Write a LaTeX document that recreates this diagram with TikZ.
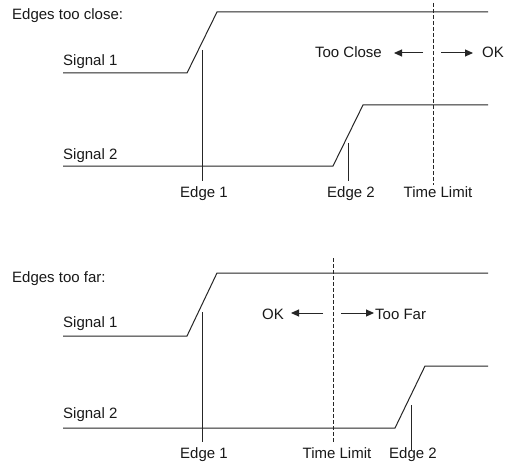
\documentclass[tikz,border=0pt]{standalone}
\usepackage{fontspec}
\setmainfont{Liberation Sans}
\usetikzlibrary{arrows.meta}
\begin{document}
\begin{tikzpicture}[x=1pt,y=-1pt,
  sig/.style={line width=1pt,draw=black!85},
  edgeline/.style={line width=1pt,draw=black!85},
  limit/.style={line width=1pt,draw=black!85,dash pattern=on 4pt off 2pt},
  arr/.style={line width=1pt,draw=black!85,-{Triangle[length=8pt,width=7pt]}},
  lbl/.style={inner sep=0pt,font=\fontsize{15}{18}\selectfont,text=black!90}]
\useasboundingbox[fill=white] (0,0) rectangle (505,465);

% ---------- Top panel: Edges too close ----------
\node[lbl,anchor=base west] (t1) at (12,20) {Edges too close:};
\node[lbl,anchor=base west] (s1a) at (63,66) {Signal 1};
\node[lbl,anchor=base west] (s2a) at (63,159) {Signal 2};
\draw[sig] (63,73) -- (187,73) -- (217,12) -- (488,12);
\draw[sig] (63,166) -- (333,166) -- (363,105) -- (488,105);
\node[lbl,anchor=base] (e1a) at (204,197) {Edge 1};
\node[lbl,anchor=base] (e2a) at (351,197) {Edge 2};
\node[lbl,anchor=base] (tla) at (438,197) {Time Limit};
\coordinate (e1at) at (202,50);
\coordinate (e2at) at (348,143);
\coordinate (tlat) at (433,3);
\draw[edgeline] (e1at) -- (202,181);
\draw[edgeline] (e2at) -- (348,181);
\draw[limit] (tlat) -- (433,185);
\node[lbl,anchor=base east] (tc) at (382,58) {Too Close};
\node[lbl,anchor=base west] (oka) at (482,58) {OK};
\coordinate (la1) at (423,53); \coordinate (la2) at (394,53);
\coordinate (ra1) at (441,53); \coordinate (ra2) at (473,53);
\draw[arr] (la1) -- (la2);
\draw[arr] (ra1) -- (ra2);

% ---------- Bottom panel: Edges too far ----------
\node[lbl,anchor=base west] (t2) at (12,282) {Edges too far:};
\node[lbl,anchor=base west] (s1b) at (63,327) {Signal 1};
\node[lbl,anchor=base west] (s2b) at (63,418) {Signal 2};
\draw[sig] (63,336) -- (187,336) -- (217,273) -- (488,273);
\draw[sig] (63,428) -- (395,428) -- (425,366) -- (488,366);
\node[lbl,anchor=base] (e1b) at (204,458) {Edge 1};
\node[lbl,anchor=base] (tlb) at (337,458) {Time Limit};
\node[lbl,anchor=base] (e2b) at (413,458) {Edge 2};
\coordinate (e1bt) at (202,312);
\coordinate (e2bt) at (411,405);
\coordinate (tlbt) at (333,258);
\draw[edgeline] (e1bt) -- (202,442);
\draw[edgeline] (e2bt) -- (411,450);
\draw[limit] (tlbt) -- (333,442);
\node[lbl,anchor=base west] (okb) at (262,319) {OK};
\node[lbl,anchor=base west] (tf) at (375,319) {Too Far};
\coordinate (lb1) at (323,313); \coordinate (lb2) at (291,313);
\coordinate (rb1) at (341,313); \coordinate (rb2) at (374,313);
\draw[arr] (lb1) -- (lb2);
\draw[arr] (rb1) -- (rb2);
\end{tikzpicture}
\end{document}
